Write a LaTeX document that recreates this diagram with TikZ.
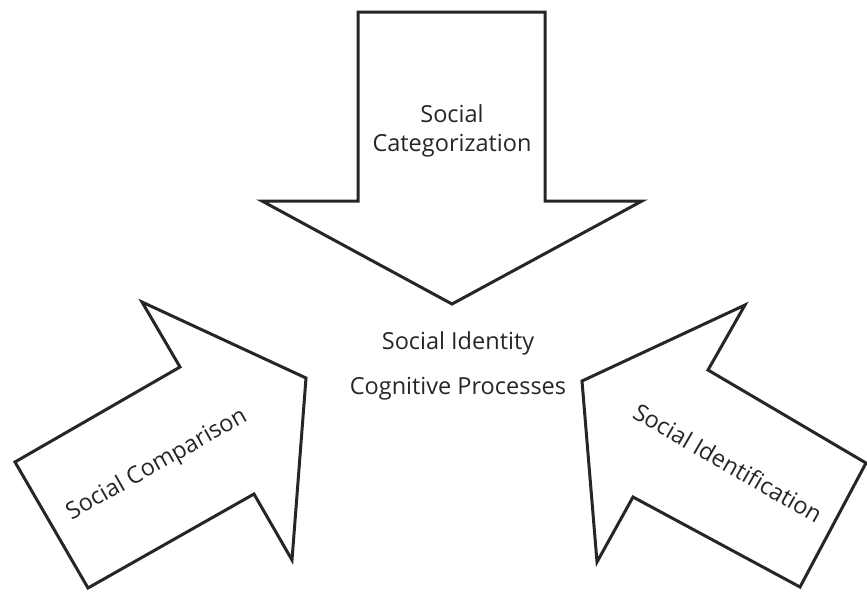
\documentclass[tikz,border=0pt]{standalone}
\usepackage{fontspec}
\setmainfont{Open Sans}
\usetikzlibrary{positioning}

\begin{document}
\begin{tikzpicture}[x=1pt, y=-1pt,
    blk-arr/.style={draw=black!85, line width=3pt, line join=miter, fill=white},
    lbl/.style={text=black!85, font=\fontsize{23.5}{29}\selectfont, inner sep=0pt, align=center}
  ]
\useasboundingbox (0,0) rectangle (867,595);

% Top arrow, pointing down
\draw[blk-arr] (358,12) -- (545,12) -- (545,201) -- (642,201) -- (452,304)
    -- (262,201) -- (358,201) -- cycle;
\node[lbl] (categ) at (452,131) {Social\\Categorization};

% Left arrow, pointing up-right
\draw[blk-arr] (15,462) -- (180,367) -- (142,302) -- (306,378) -- (292,560)
    -- (254,494) -- (88,588) -- cycle;
\node[lbl, rotate=29.5] (compar) at (157,465) {Social Comparison};

% Right arrow, pointing up-left
\draw[blk-arr] (866,463) -- (708,370) -- (745,305) -- (582,381) -- (597,562)
    -- (633,497) -- (800,587) -- cycle;
\node[lbl, rotate=-30] (ident) at (728,463) {Social Identification};

% Centre text
\node[lbl] (sid) at (458,343) {Social Identity};
\node[lbl, below=46pt of sid.center, anchor=center] (cogn) {Cognitive Processes};

\end{tikzpicture}
\end{document}
